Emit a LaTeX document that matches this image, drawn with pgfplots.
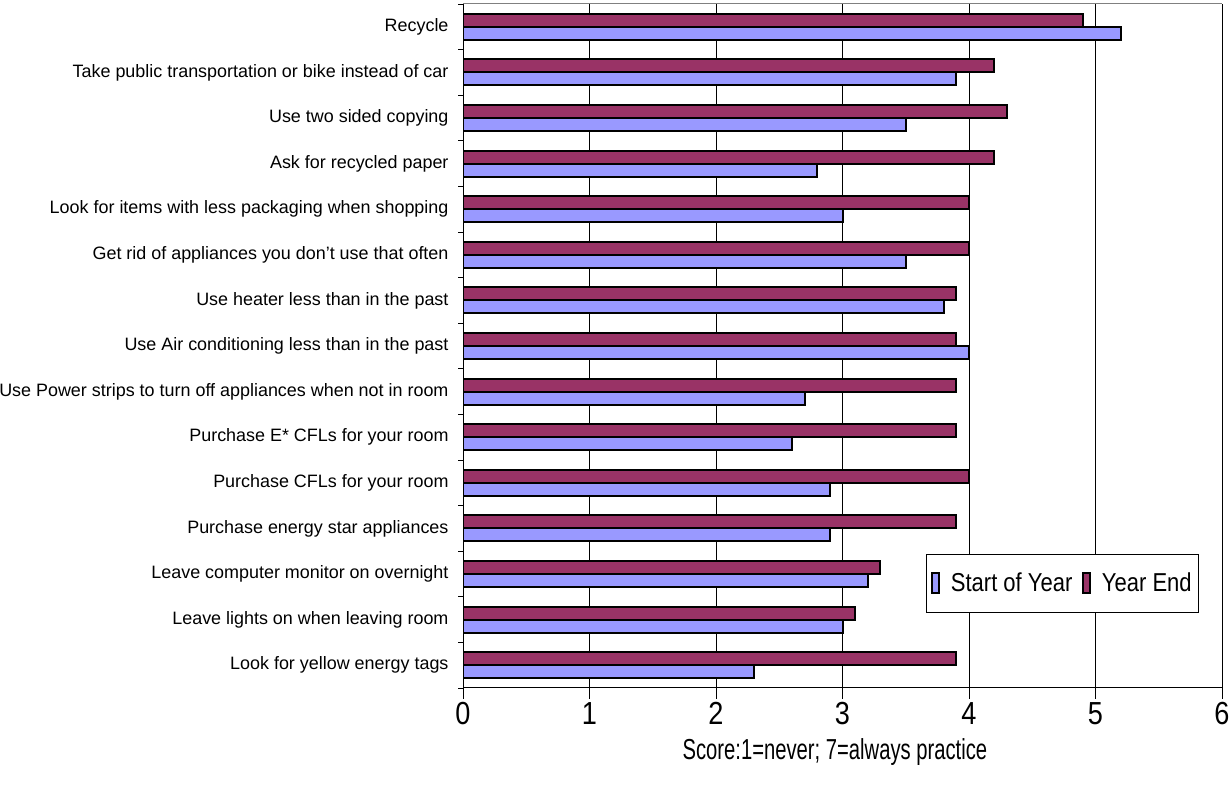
\documentclass[border=0pt]{standalone}
\usepackage{fontspec}
\setmainfont{Liberation Sans}[FakeStretch=0.85]
\newfontfamily\catfont{Liberation Sans}
\newfontfamily\xlabfont{Liberation Sans}[FakeStretch=0.7]
\usepackage{pgfplots}
\pgfplotsset{compat=1.18}
\definecolor{soy}{HTML}{9999FF}
\definecolor{ye}{HTML}{993366}
\begin{document}
\begin{tikzpicture}[x=1bp,y=1bp]
\path[use as bounding box] (0,0) rectangle (1231,786);
\begin{axis}[
  at={(463bp,98bp)}, anchor=south west,
  scale only axis, width=759bp, height=684bp,
  xbar, bar width=13bp,
  xmin=0, xmax=6, ymin=-0.5, ymax=14.5,
  xtick={0,1,2,3,4,5,6},
  xmajorgrids, major grid style={black, line width=0.8bp},
  xtick align=outside, ytick align=outside,
  major tick length=11bp, minor tick length=5bp,
  every tick/.style={black, line width=0.8bp},
  every major y tick/.style={draw=none},
  axis x line*=bottom, axis y line*=left,
  axis line style={black, line width=1bp, -},
  /pgf/number format/assume math mode=true,
  xticklabel style={font=\fontsize{32}{36}\selectfont},
  ytick={0,...,14},
  minor ytick={-0.5,0.5,...,14.5},
  yticklabels={Look for yellow energy tags, Leave lights on when leaving room, Leave computer monitor on overnight, Purchase energy star appliances, Purchase CFLs for your room, Purchase E* CFLs for your room, Use Power strips to turn off appliances when not in room, Use Air conditioning less than in the past, Use heater less than in the past, Get rid of appliances you don’t use that often, Look for items with less packaging when shopping, Ask for recycled paper, Use two sided copying, Take public transportation or bike instead of car, Recycle},
  yticklabel style={font=\catfont\fontsize{18}{21}\selectfont, anchor=east},
  xlabel={Score:1=never; 7=always practice},
  xlabel style={font=\xlabfont\fontsize{29}{34}\selectfont, at={(axis description cs:0.49,0)}, anchor=center, yshift=-64bp},
  legend columns=2,
  legend style={at={(axis description cs:0.61,0.11)}, anchor=south west, draw=black, line width=0.8bp, font=\fontsize{26}{30}\selectfont, inner xsep=5bp, inner ysep=17bp,
    /tikz/every odd column/.append style={column sep=9bp},
    /tikz/every even column/.append style={column sep=8bp}},
]
\addplot[fill=soy, draw=black, line width=2bp, bar shift=-6.5bp,
  legend image code/.code={\draw[fill=soy, draw=black, line width=1.5bp] (0bp,-10bp) rectangle (7bp,10bp);}]
  coordinates {(2.3,0) (3.0,1) (3.2,2) (2.9,3) (2.9,4) (2.6,5) (2.7,6) (4.0,7) (3.8,8) (3.5,9) (3.0,10) (2.8,11) (3.5,12) (3.9,13) (5.2,14)};
\addlegendentry{Start of Year}
\addplot[fill=ye, draw=black, line width=2bp, bar shift=6.5bp,
  legend image code/.code={\draw[fill=ye, draw=black, line width=1.5bp] (0bp,-10bp) rectangle (7bp,10bp);}]
  coordinates {(3.9,0) (3.1,1) (3.3,2) (3.9,3) (4.0,4) (3.9,5) (3.9,6) (3.9,7) (3.9,8) (4.0,9) (4.0,10) (4.2,11) (4.3,12) (4.2,13) (4.9,14)};
\addlegendentry{Year End}
\draw[gray, line width=1bp] (rel axis cs:0,1) -- (rel axis cs:1,1);
\end{axis}
\end{tikzpicture}
\end{document}
